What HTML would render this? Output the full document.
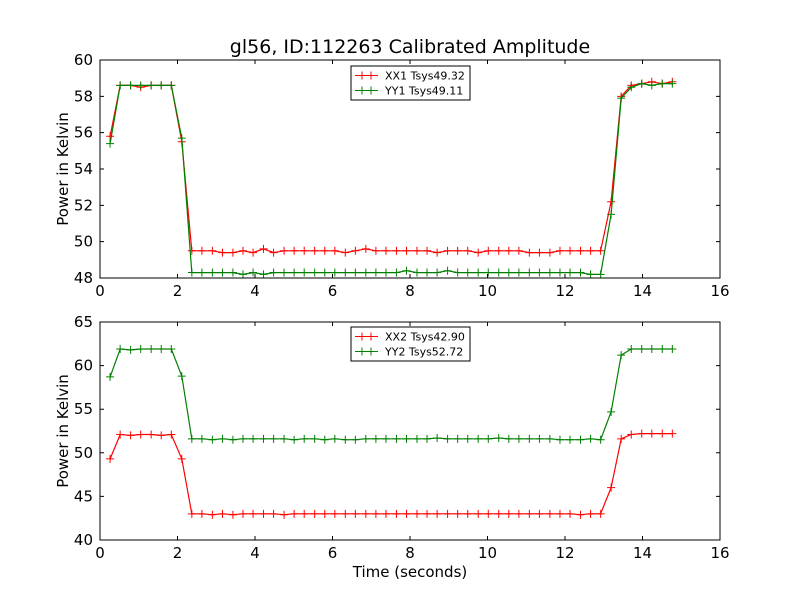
<!DOCTYPE html>
<html><head><meta charset="utf-8"><style>
body{margin:0;background:#fff}
svg{display:block;font-family:"DejaVu Sans","Liberation Sans",sans-serif}
</style></head><body>
<svg id="fig" width="800" height="600" viewBox="0 0 800 600">
<rect width="800" height="600" fill="#fff"/>
<text x="410" y="53" font-size="19" text-anchor="middle">gl56, ID:112263 Calibrated Amplitude</text>
<text x="410" y="577" font-size="15" text-anchor="middle">Time (seconds)</text>
</svg>
<script>
const times=[0.26,0.52,0.79,1.05,1.32,1.58,1.84,2.11,2.37,2.63,2.90,3.16,3.43,3.69,3.95,4.22,4.48,4.75,5.01,5.27,5.54,5.80,6.06,6.33,6.59,6.86,7.12,7.38,7.65,7.91,8.18,8.44,8.70,8.97,9.23,9.49,9.76,10.02,10.29,10.55,10.81,11.08,11.34,11.61,11.87,12.13,12.40,12.66,12.92,13.19,13.45,13.71,13.98,14.24,14.51,14.77];
const xx1=[55.8,58.6,58.6,58.5,58.6,58.6,58.6,55.5,49.5,49.5,49.5,49.4,49.4,49.5,49.4,49.6,49.4,49.5,49.5,49.5,49.5,49.5,49.5,49.4,49.5,49.6,49.5,49.5,49.5,49.5,49.5,49.5,49.4,49.5,49.5,49.5,49.4,49.5,49.5,49.5,49.5,49.4,49.4,49.4,49.5,49.5,49.5,49.5,49.5,52.2,58.0,58.6,58.7,58.8,58.7,58.8];
const yy1=[55.4,58.6,58.6,58.6,58.6,58.6,58.6,55.7,48.3,48.3,48.3,48.3,48.3,48.2,48.3,48.2,48.3,48.3,48.3,48.3,48.3,48.3,48.3,48.3,48.3,48.3,48.3,48.3,48.3,48.4,48.3,48.3,48.3,48.4,48.3,48.3,48.3,48.3,48.3,48.3,48.3,48.3,48.3,48.3,48.3,48.3,48.3,48.2,48.2,51.5,57.9,58.5,58.7,58.6,58.7,58.7];
const xx2=[49.3,52.1,52.0,52.1,52.1,52.0,52.1,49.3,43.0,43.0,42.9,43.0,42.9,43.0,43.0,43.0,43.0,42.9,43.0,43.0,43.0,43.0,43.0,43.0,43.0,43.0,43.0,43.0,43.0,43.0,43.0,43.0,43.0,43.0,43.0,43.0,43.0,43.0,43.0,43.0,43.0,43.0,43.0,43.0,43.0,43.0,42.9,43.0,43.0,46.0,51.6,52.1,52.2,52.2,52.2,52.2];
const yy2=[58.7,61.9,61.8,61.9,61.9,61.9,61.9,58.8,51.6,51.6,51.5,51.6,51.5,51.6,51.6,51.6,51.6,51.6,51.5,51.6,51.6,51.5,51.6,51.5,51.5,51.6,51.6,51.6,51.6,51.6,51.6,51.6,51.7,51.6,51.6,51.6,51.6,51.6,51.7,51.6,51.6,51.6,51.6,51.6,51.5,51.5,51.5,51.6,51.5,54.7,61.2,61.9,61.9,61.9,61.9,61.9];
const xTicks=[0,2,4,6,8,10,12,14,16];
const yTicksTop=[48,50,52,54,56,58,60];
const yTicksBot=[40,45,50,55,60,65];
const legTop=["XX1 Tsys49.32","YY1 Tsys49.11"];
const legBot=["XX2 Tsys42.90","YY2 Tsys52.72"];

const NS="http://www.w3.org/2000/svg",svg=document.getElementById('fig');
function mk(tag,at,parent){const e=document.createElementNS(NS,tag);for(const k in at)e.setAttribute(k,at[k]);(parent||svg).appendChild(e);return e;}
function panel(name,top,bot,ymin,ymax,yt,series,colors,leg,legY){
  const L=100,R=720;
  const g=mk('g',{});
  
  
  const sx=v=>L+(v-0)/(16-0)*(R-L), sy=v=>bot-(v-ymin)/(ymax-ymin)*(bot-top);
  series.forEach((s,i)=>{
    const pts=times.map((t,j)=>sx(t).toFixed(1)+','+sy(s[j]).toFixed(1)).join(' ');
    const pl=mk('polyline',{points:pts,fill:'none',stroke:colors[i],'stroke-width':1.2},g);
    
    
    let d='';times.forEach((t,j)=>{const x=sx(t),y=sy(s[j]);d+=`M${x-4},${y}h8M${x},${y-4}v8`;});
    const m=mk('path',{d:d,stroke:colors[i],'stroke-width':1},g);
    
    
  });
  const fr=mk('rect',{x:L,y:top,width:R-L,height:bot-top,fill:'none',stroke:'#000','stroke-width':1},g);
  
  
  xTicks.forEach(v=>{const x=sx(v);
    mk('path',{d:`M${x},${bot}v-4M${x},${top}v4`,stroke:'#000'},g);
    const t=mk('text',{x:x,y:bot+18,'font-size':15,'text-anchor':'middle'},g);t.textContent=v;
    
    });
  yt.forEach(v=>{const y=sy(v);
    mk('path',{d:`M${L},${y}h4M${R},${y}h-4`,stroke:'#000'},g);
    const t=mk('text',{x:L-7,y:y+5,'font-size':15,'text-anchor':'end'},g);t.textContent=v;
    
    });
  const yl=mk('text',{x:0,y:0,'font-size':15,'text-anchor':'middle',transform:`translate(68,${(top+bot)/2}) rotate(-90)`},g);
  yl.textContent='Power in Kelvin';
  
  
  const lg=mk('g',{},g);
  
  
  mk('rect',{x:351,y:legY,width:119,height:34,fill:'#fff',stroke:'#000'},lg);
  leg.forEach((s,i)=>{const y=legY+9.5+i*15;
    const e=mk('g',{},lg);
    
    
    mk('path',{d:`M355,${y}h23M362,${y-4}v8M371,${y-4}v8`,stroke:colors[i]},e);
    const t=mk('text',{x:385,y:y+4,'font-size':11},e);t.textContent=s;});
}
panel('top-panel',60,278,48,60,yTicksTop,[xx1,yy1],['#ff0000','#008000'],legTop,66);
panel('bottom-panel',322,540,40,65,yTicksBot,[xx2,yy2],['#ff0000','#008000'],legBot,327);
</script>
</body></html>
